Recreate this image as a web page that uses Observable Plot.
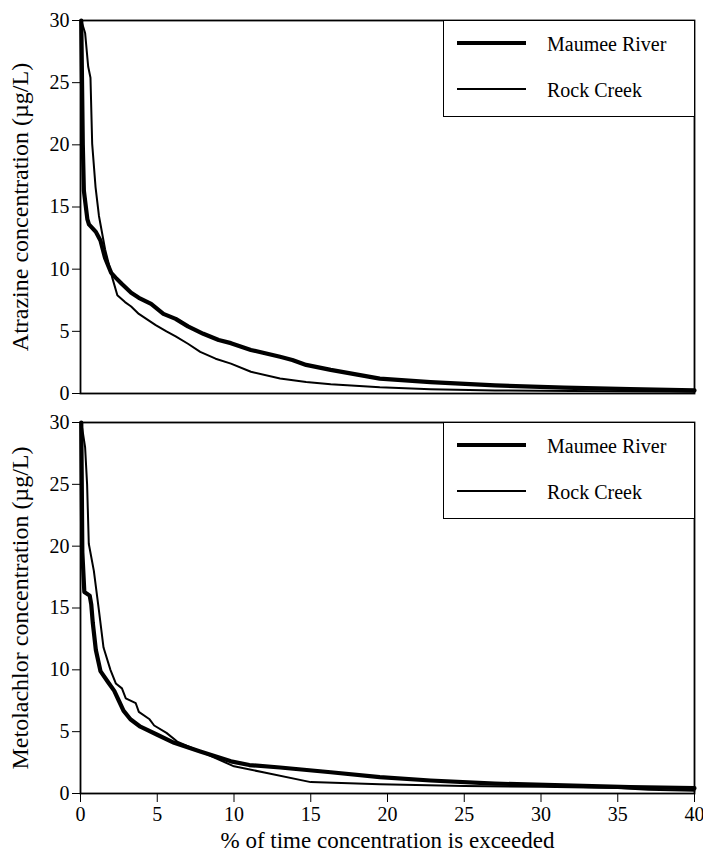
<!DOCTYPE html>
<html>
<head>
<meta charset="utf-8">
<script src="https://cdn.jsdelivr.net/npm/d3@7"></script>
<script src="https://cdn.jsdelivr.net/npm/@observablehq/plot@0.6"></script>
<style>
  body { margin: 0; background: #fff; }
  #wrap { position: relative; width: 703px; height: 859px; font-family: "Liberation Serif", "Times New Roman", serif; color: #000; }
  .panel { position: absolute; left: 0; }
  .lbox { position: absolute; left: 443px; width: 252px; height: 97px; box-sizing: border-box; border: 1.8px solid #000; background: #fff; }
  .sw { position: absolute; left: 457px; width: 69px; background: #000; }
  .lt { position: absolute; left: 547px; font-size: 20px; line-height: 22px; white-space: nowrap; }
</style>
</head>
<body>
<div id="wrap"></div>
<script>
// ---- data ----
const seriesNames = ["Maumee River", "Rock Creek"];
const xTicks = [0, 5, 10, 15, 20, 25, 30, 35, 40];
const yTicks = [0, 5, 10, 15, 20, 25, 30];
const xLabel = "% of time concentration is exceeded";
const yLabels = ["Atrazine concentration (\u00b5g/L)", "Metolachlor concentration (\u00b5g/L)"];

// Atrazine, Maumee River
const atrMaumeePct  = [0.05, 0.15, 0.22, 0.45, 0.55, 1.0, 1.3, 1.6, 2.0, 2.3, 2.7, 3.3, 3.8, 4.6, 5.4, 6.2, 7.0, 8.0, 9.0, 9.8, 11.1, 13.0, 13.8, 14.7, 16.3, 19.5, 22.8, 27.0, 31.5, 35.8, 40.0];
const atrMaumeeConc = [30, 20, 16.3, 14.0, 13.6, 13.0, 12.3, 10.9, 9.7, 9.3, 8.8, 8.1, 7.7, 7.2, 6.4, 6.0, 5.4, 4.8, 4.3, 4.05, 3.5, 2.95, 2.7, 2.3, 1.9, 1.2, 0.92, 0.65, 0.47, 0.35, 0.25];
// Atrazine, Rock Creek
const atrRockPct  = [0.05, 0.3, 0.5, 0.65, 0.76, 0.98, 1.2, 1.6, 2.05, 2.4, 2.9, 3.3, 3.8, 4.9, 5.6, 6.2, 7.0, 7.8, 8.8, 9.8, 11.1, 13.0, 14.7, 16.3, 19.5, 22.8, 27.0, 32.0, 40.0];
const atrRockConc = [30, 29, 26.3, 25.4, 20.1, 16.6, 14.3, 11.6, 9.4, 7.9, 7.35, 7.0, 6.4, 5.5, 5.0, 4.6, 4.0, 3.35, 2.8, 2.4, 1.75, 1.2, 0.92, 0.75, 0.5, 0.35, 0.25, 0.2, 0.15];
// Metolachlor, Maumee River
const metMaumeePct  = [0.05, 0.12, 0.25, 0.6, 0.7, 0.8, 1.0, 1.3, 1.8, 2.2, 2.5, 2.8, 3.25, 3.9, 5.0, 6.1, 7.8, 9.8, 11.0, 13.0, 16.3, 19.5, 22.8, 27.0, 31.5, 35.8, 40.0];
const metMaumeeConc = [30, 19.5, 16.3, 16.0, 15.3, 13.8, 11.6, 9.9, 9.0, 8.3, 7.5, 6.7, 6.0, 5.4, 4.75, 4.1, 3.4, 2.6, 2.3, 2.1, 1.72, 1.32, 1.05, 0.8, 0.65, 0.52, 0.43];
// Metolachlor, Rock Creek
const metRockPct  = [0.05, 0.3, 0.43, 0.54, 0.87, 1.2, 1.5, 1.95, 2.3, 2.7, 2.95, 3.6, 3.8, 4.5, 4.8, 5.6, 6.3, 7.8, 10.0, 11.9, 15.0, 19.5, 25.0, 30.0, 35.0, 37.0, 40.0];
const metRockConc = [30, 28, 25, 20.2, 18.0, 14.8, 11.8, 10.0, 8.9, 8.5, 7.7, 7.3, 6.6, 6.0, 5.5, 4.9, 4.2, 3.4, 2.2, 1.72, 0.92, 0.75, 0.6, 0.55, 0.45, 0.3, 0.22];

const zip = (xs, ys) => xs.map((x, i) => ({x, y: ys[i]}));
const FONT = '"Liberation Serif", "Times New Roman", serif';

function panel({maumee, rock, yLabel, bottom}) {
  return Plot.plot({
    width: 703,
    height: bottom ? 459 : 400,
    marginLeft: 80,
    marginRight: 9,
    marginTop: bottom ? 22 : 20,
    marginBottom: bottom ? 66 : 7,
    style: {fontFamily: FONT, fontSize: "20px", color: "#000", background: "transparent", overflow: "visible"},
    x: bottom
      ? {domain: [0, 40], ticks: xTicks, tickSize: 9, tickPadding: 4, label: null}
      : {domain: [0, 40], axis: null},
    y: {domain: [0, 30], ticks: yTicks, tickSize: 8, tickPadding: 3, label: null},
    marks: [
      Plot.line(rock, {x: "x", y: "y", stroke: "#000", strokeWidth: 2, strokeLinejoin: "round"}),
      Plot.line(maumee, {x: "x", y: "y", stroke: "#000", strokeWidth: 4.2, strokeLinejoin: "round"}),
      Plot.frame({stroke: "#000", strokeWidth: 1.8}),
      Plot.text([yLabel], {text: d => d, frameAnchor: "left", dx: -60, rotate: -90, textAnchor: "middle", lineAnchor: "middle", fontSize: 24, fill: "#000"}),
      ...(bottom ? [Plot.text([xLabel], {text: d => d, frameAnchor: "bottom", dy: 54, lineAnchor: "bottom", textAnchor: "middle", fontSize: 23, fill: "#000"})] : [])
    ]
  });
}

const wrap = document.getElementById("wrap");
const top1 = panel({maumee: zip(atrMaumeePct, atrMaumeeConc), rock: zip(atrRockPct, atrRockConc), yLabel: yLabels[0], bottom: false});
top1.classList.add("panel"); top1.style.top = "0px";
const bot1 = panel({maumee: zip(metMaumeePct, metMaumeeConc), rock: zip(metRockPct, metRockConc), yLabel: yLabels[1], bottom: true});
bot1.classList.add("panel"); bot1.style.top = "400px";
wrap.appendChild(top1);
wrap.appendChild(bot1);

// legends (one per panel)
function legend(top) {
  const box = document.createElement("div");
  box.className = "lbox"; box.style.top = (top - 0.5) + "px";
  wrap.appendChild(box);
  const widths = [4, 2];
  seriesNames.forEach((name, i) => {
    const cy = top + 23 + i * 46;
    const sw = document.createElement("div");
    sw.className = "sw";
    sw.style.top = (cy - widths[i] / 2) + "px";
    sw.style.height = widths[i] + "px";
    wrap.appendChild(sw);
    const t = document.createElement("div");
    t.className = "lt";
    t.textContent = name;
    t.style.top = (cy + 8 - 17.8) + "px";
    wrap.appendChild(t);
  });
}
legend(20);
legend(422);
</script>
</body>
</html>
